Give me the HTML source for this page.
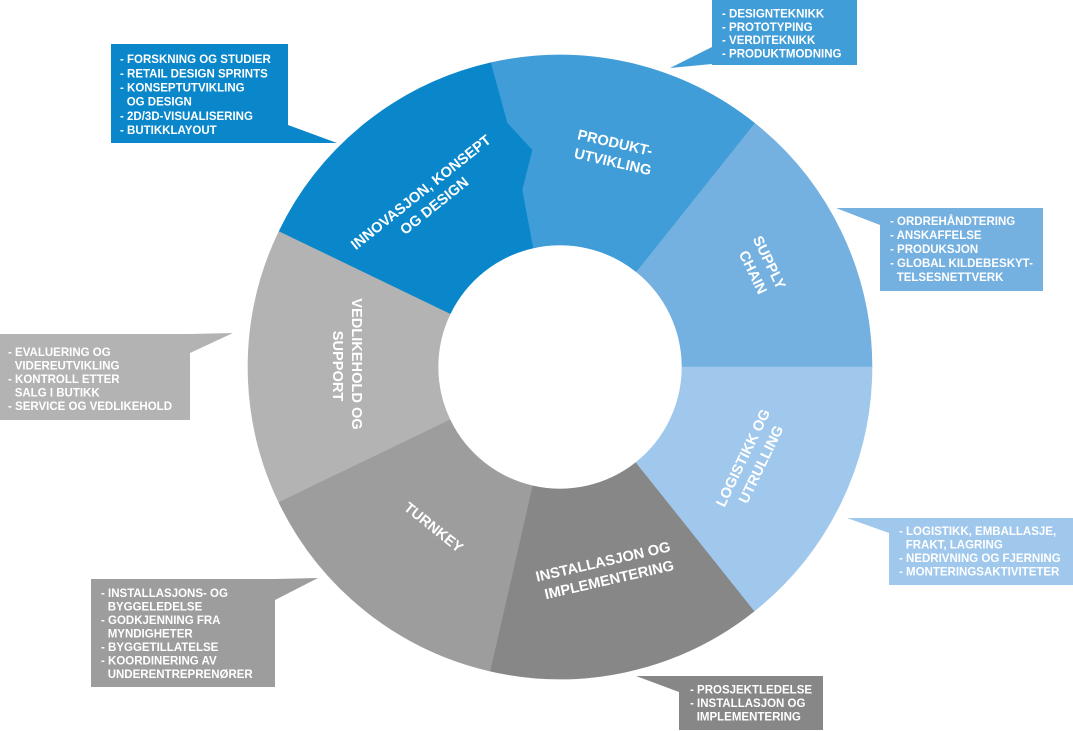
<!DOCTYPE html>
<html>
<head>
<meta charset="utf-8">
<style>
  html,body{margin:0;padding:0;background:#ffffff;}
  body{width:1073px;height:731px;overflow:hidden;}
  svg{display:block;}
  .lbl{font-family:"Liberation Sans",Arial,sans-serif;font-size:14.6px;font-weight:bold;fill:#ffffff;}
  .co{font-family:"Liberation Sans",Arial,sans-serif;font-size:11.5px;font-weight:bold;fill:#ffffff;}
</style>
</head>
<body>
<svg width="1073" height="731" viewBox="0 0 1073 731" xmlns="http://www.w3.org/2000/svg">
  <rect x="0" y="0" width="1073" height="731" fill="#ffffff"/>

  <!-- Donut segments -->
  <path d="M 872 367 A 312 312 0 0 0 754.5 123.1 L 636.1 271.6 A 122 122 0 0 1 682 367 Z" fill="#74b0e0" stroke="#74b0e0" stroke-width="0.6"/>
  <path d="M 754.5 123.1 A 312 312 0 0 0 490.6 62.8 L 507 123 L 532 150 L 522 190 L 532.9 248.1 A 122 122 0 0 1 636.1 271.6 Z" fill="#409dd8" stroke="#409dd8" stroke-width="0.6"/>
  <path d="M 490.6 62.8 A 312 312 0 0 0 278.9 231.6 L 450.1 314.1 A 122 122 0 0 1 532.9 248.1 L 522 190 L 532 150 L 507 123 Z" fill="#0a87ca" stroke="#0a87ca" stroke-width="0.6"/>
  <path d="M 278.9 231.6 A 312 312 0 0 0 278.9 502.4 L 450.1 419.9 A 122 122 0 0 1 450.1 314.1 Z" fill="#b3b3b3" stroke="#b3b3b3" stroke-width="0.6"/>
  <path d="M 278.9 502.4 A 312 312 0 0 0 490.6 671.2 L 532.9 485.9 A 122 122 0 0 1 450.1 419.9 Z" fill="#9d9d9d" stroke="#9d9d9d" stroke-width="0.6"/>
  <path d="M 490.6 671.2 A 312 312 0 0 0 754.5 610.9 L 636.1 462.4 A 122 122 0 0 1 532.9 485.9 Z" fill="#878787" stroke="#878787" stroke-width="0.6"/>
  <path d="M 754.5 610.9 A 312 312 0 0 0 872 367 L 682 367 A 122 122 0 0 1 636.1 462.4 Z" fill="#a0c8ec" stroke="#a0c8ec" stroke-width="0.6"/>

  <!-- Segment labels -->
  <text class="lbl" text-anchor="middle" transform="translate(428,198) rotate(-38.57)">
    <tspan x="0" y="-4.1">INNOVASJON, KONSEPT</tspan>
    <tspan x="0" y="14.9">OG DESIGN</tspan>
  </text>
  <text class="lbl" text-anchor="middle" transform="translate(615,152) rotate(12.86)">
    <tspan x="0" y="-4.1">PRODUKT-</tspan>
    <tspan x="0" y="14.9">UTVIKLING</tspan>
  </text>
  <text class="lbl" text-anchor="middle" transform="translate(762,268) rotate(64.29)">
    <tspan x="0" y="-4.1">SUPPLY</tspan>
    <tspan x="0" y="14.9">CHAIN</tspan>
  </text>
  <text class="lbl" text-anchor="middle" transform="translate(752,460) rotate(-64.29)">
    <tspan x="0" y="-4.1">LOGISTIKK OG</tspan>
    <tspan x="0" y="14.9">UTRULLING</tspan>
  </text>
  <text class="lbl" text-anchor="middle" transform="translate(607,570) rotate(-12.86)">
    <tspan x="0" y="-4.1">INSTALLASJON OG</tspan>
    <tspan x="0" y="14.9">IMPLEMENTERING</tspan>
  </text>
  <text class="lbl" text-anchor="middle" transform="translate(434,527) rotate(38.57)">
    <tspan x="0" y="5.4">TURNKEY</tspan>
  </text>
  <text class="lbl" text-anchor="middle" transform="translate(348,366) rotate(90)">
    <tspan x="0" y="-4.1">VEDLIKEHOLD OG</tspan>
    <tspan x="0" y="14.9">SUPPORT</tspan>
  </text>

  <!-- Callout 1 -->
  <polygon points="111,44 288,44 288,125 337,143 111,143" fill="#0a87ca"/>
  <text class="co">
    <tspan x="120" y="63.1">- FORSKNING OG STUDIER</tspan>
    <tspan x="120" y="77.3">- RETAIL DESIGN SPRINTS</tspan>
    <tspan x="120" y="91.5">- KONSEPTUTVIKLING</tspan>
    <tspan x="126.7" y="105.7">OG DESIGN</tspan>
    <tspan x="120" y="119.9">- 2D/3D-VISUALISERING</tspan>
    <tspan x="120" y="134.1">- BUTIKKLAYOUT</tspan>
  </text>

  <!-- Callout 2 -->
  <polygon points="712,0 857,0 857,65 712,65 712,64 670,68 712,47" fill="#409dd8"/>
  <text class="co">
    <tspan x="722" y="17.6">- DESIGNTEKNIKK</tspan>
    <tspan x="722" y="30.9">- PROTOTYPING</tspan>
    <tspan x="722" y="44.2">- VERDITEKNIKK</tspan>
    <tspan x="722" y="57.5">- PRODUKTMODNING</tspan>
  </text>

  <!-- Callout 3 -->
  <polygon points="836,208 1043,208 1043,291 880,291 880,225" fill="#74b0e0"/>
  <text class="co">
    <tspan x="890" y="225.1">- ORDREHÅNDTERING</tspan>
    <tspan x="890" y="239.1">- ANSKAFFELSE</tspan>
    <tspan x="890" y="253.1">- PRODUKSJON</tspan>
    <tspan x="890" y="267.1">- GLOBAL KILDEBESKYT-</tspan>
    <tspan x="896.7" y="281.1">TELSESNETTVERK</tspan>
  </text>

  <!-- Callout 4 -->
  <polygon points="0,334 190,334 233,333 190,353 190,420 0,420" fill="#b3b3b3"/>
  <text class="co">
    <tspan x="8" y="356.1">- EVALUERING OG</tspan>
    <tspan x="14.7" y="369.6">VIDEREUTVIKLING</tspan>
    <tspan x="8" y="383.1">- KONTROLL ETTER</tspan>
    <tspan x="14.7" y="396.6">SALG I BUTIKK</tspan>
    <tspan x="8" y="410.1">- SERVICE OG VEDLIKEHOLD</tspan>
  </text>

  <!-- Callout 5 -->
  <polygon points="847,518 1073,518 1073,585 889,585 889,533" fill="#a0c8ec"/>
  <text class="co">
    <tspan x="899" y="535.1">- LOGISTIKK, EMBALLASJE,</tspan>
    <tspan x="905.7" y="548.6">FRAKT, LAGRING</tspan>
    <tspan x="899" y="562.1">- NEDRIVNING OG FJERNING</tspan>
    <tspan x="899" y="575.6">- MONTERINGSAKTIVITETER</tspan>
  </text>

  <!-- Callout 6 -->
  <polygon points="91,579 275,579 318,578 275,600 275,687 91,687" fill="#9d9d9d"/>
  <text class="co">
    <tspan x="101" y="597.1">- INSTALLASJONS- OG</tspan>
    <tspan x="107.7" y="610.6">BYGGELEDELSE</tspan>
    <tspan x="101" y="624.1">- GODKJENNING FRA</tspan>
    <tspan x="107.7" y="637.6">MYNDIGHETER</tspan>
    <tspan x="101" y="651.1">- BYGGETILLATELSE</tspan>
    <tspan x="101" y="664.6">- KOORDINERING AV</tspan>
    <tspan x="107.7" y="678.1">UNDERENTREPRENØRER</tspan>
  </text>

  <!-- Callout 7 -->
  <polygon points="636,676 823,676 823,730 679,730 679,692" fill="#878787"/>
  <text class="co">
    <tspan x="690" y="693.6">- PROSJEKTLEDELSE</tspan>
    <tspan x="690" y="707.1">- INSTALLASJON OG</tspan>
    <tspan x="696.7" y="720.6">IMPLEMENTERING</tspan>
  </text>
</svg>
</body>
</html>
